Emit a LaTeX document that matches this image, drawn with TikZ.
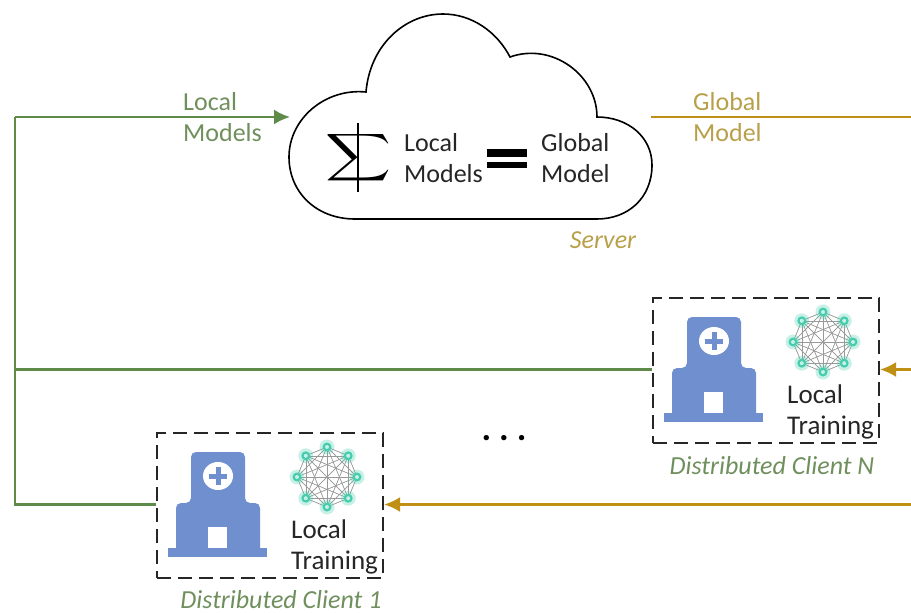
\documentclass[tikz,border=0pt]{standalone}
\usepackage{graphicx}
\usepackage{fontspec}
\setmainfont{Carlito}
\definecolor{grn}{HTML}{5F8B4A}
\definecolor{gld}{HTML}{BF9014}
\definecolor{gtxt}{HTML}{6F8F5C}
\definecolor{ytxt}{HTML}{B8A04A}
\definecolor{hosp}{HTML}{6F8FCF}
\definecolor{teal}{HTML}{45CDAE}
\usetikzlibrary{arrows.meta}
\tikzset{
 lbl/.style={font=\fontsize{26}{30.5}\selectfont,align=left,inner sep=0pt,text=black!85},
 train lbl/.style={lbl,font=\fontsize{27}{31}\selectfont},
 cap lbl/.style={font=\fontsize{26}{28}\selectfont\itshape,inner sep=0pt},
 clientbox/.style={draw=black!85,line width=2.2pt,dash pattern=on 14pt off 7pt,minimum width=226pt,minimum height=145pt,inner sep=0pt},
 greenline/.style={draw=grn,line width=2.2pt},
 goldline/.style={draw=gld,line width=2.2pt},
 tip/.style={-{Latex[length=16pt,width=15pt]}},
}
\newcommand{\clientart}[2]{%
 \begin{scope}[shift={(#1,#2)}]
  % hospital
  \fill[hosp,rounded corners=5pt] (672,418) -- (672,368) -- (687,368) -- (687,317) -- (741,317) -- (741,368) -- (756,368) -- (756,418) -- cycle;
  \fill[hosp] (664,413) rectangle (763,422);
  \fill[white] (704,392) rectangle (723,413);
  \fill[white] (714,341) ellipse (15pt and 14pt);
  \fill[hosp] (711.5,332) rectangle (716.5,350);
  \fill[hosp] (705,338.5) rectangle (723,343.5);
  % network
  \foreach \a in {0,45,...,315}{
    \foreach \b in {0,45,...,315}{
      \draw[black!40,line width=.45pt] (823,342)+(\a:30) -- +(\b:30);
    }
  }
  \foreach \a in {0,45,...,315}{
    \fill[teal,opacity=.3] (823,342)+(\a:30) circle (7.5pt);
    \fill[teal] (823,342)+(\a:30) circle (4.5pt);
    \fill[white!70!teal] (823,342)+(\a:30) circle (2pt);
  }
 \end{scope}}
\begin{document}
\begin{tikzpicture}[x=1pt,y=-1pt]
\useasboundingbox (0,0) rectangle (911,613);
% cloud
\draw[black,line width=1.6pt,fill=white]
  (366,92) .. controls (370,45) and (405,14) .. (443,14)
  .. controls (472,14) and (497,32) .. (510,57)
  .. controls (552,42) and (597,75) .. (597,117)
  .. controls (628,117) and (652,137) .. (652,165)
  .. controls (652,198) and (628,219) .. (597,219)
  -- (355,219)
  .. controls (316,219) and (289,192) .. (289,157)
  .. controls (289,119) and (325,88) .. (366,92) -- cycle;
\node[inner sep=0pt] (sigma) at (358.5,158) {\resizebox*{66pt}{53pt}{$\displaystyle\sum$}};
\coordinate (sigtop) at (358,123);
\coordinate (sigbot) at (358,192);
\draw[black,line width=1.3pt] (sigtop) -- (sigbot);
\node[lbl,anchor=west] (lm) at (404,158) {Local\\Models};
\fill[black] (487,149) rectangle (527,157);
\fill[black] (487,162) rectangle (527,168);
\node[lbl,anchor=west] (gm) at (541,158) {Global\\Model};
\node[cap lbl,text=ytxt] (server) at (603,240) {Server};
% labels
\node[lbl,anchor=west,text=gtxt] (lml) at (183,117) {Local\\Models};
\node[lbl,anchor=west,text=ytxt] (gml) at (693,117) {Global\\Model};
% clients
\node[clientbox] (cn) at (766,370.5) {};
\node[clientbox] (c1) at (270,505.5) {};
\clientart{0}{0}
\clientart{-496}{135}
\node[train lbl,anchor=west] (ltn) at (787,412) {Local\\Training};
\node[train lbl,anchor=west] (lt1) at (291,547) {Local\\Training};
\node[cap lbl,text=gtxt] (dcn) at (772,466) {Distributed Client N};
\node[cap lbl,text=gtxt] (dc1) at (281,600) {Distributed Client 1};
\node[font=\fontsize{36}{36}\selectfont\bfseries,inner sep=0pt] (dots) at (504,438) {.\hspace{8pt}.\hspace{8pt}.};
% connectors
\coordinate (gl) at (15,117);
\coordinate (gn) at (15,369.5);
\coordinate (g1) at (15,504.5);
\coordinate (cloudw) at (290,117);
\coordinate (cloude) at (651,117);
\coordinate (yr) at (913,117);
\coordinate (ynr) at (913,369.5);
\coordinate (y1r) at (913,504.5);
\draw[greenline] (c1.west |- g1) -- (g1) -- (gl);
\draw[greenline] (cn.west |- gn) -- (gn);
\draw[greenline,tip] (gl) -- (cloudw);
\draw[goldline] (cloude) -- (yr) -- (y1r);
\draw[goldline,tip] (y1r) -- (c1.east |- y1r);
\draw[goldline,tip] (ynr) -- (cn.east |- ynr);
\end{tikzpicture}
\end{document}
